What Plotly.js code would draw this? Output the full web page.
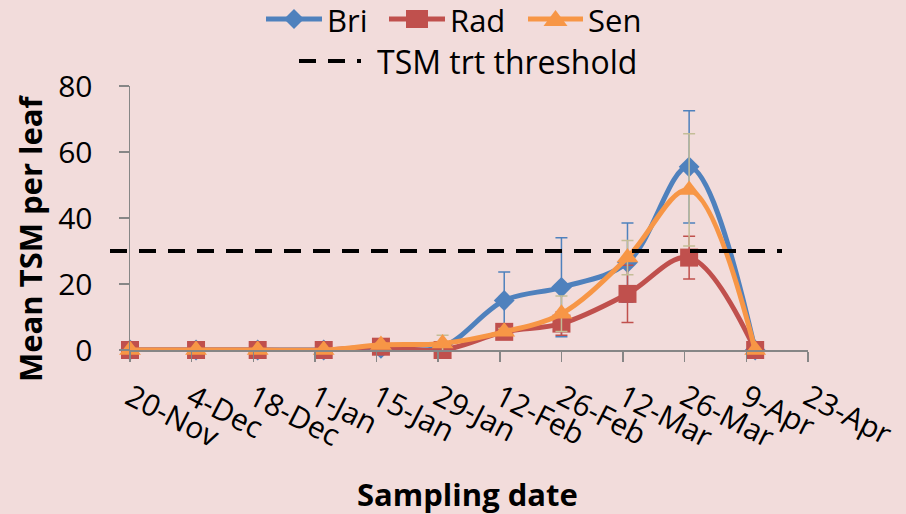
<!DOCTYPE html>
<html>
<head>
<meta charset="utf-8">
<script src="https://cdn.plot.ly/plotly-3.0.1.min.js"></script>
<style>html,body{margin:0;padding:0;background:#f2dcdb;}#chart{width:906px;height:514px;}</style>
</head>
<body>
<div id="chart"></div>
<script>
// Sampling dates (actual) and axis tick dates
const sampleDates = ['2012-11-20','2012-12-05','2012-12-19','2013-01-03','2013-01-16','2013-01-30','2013-02-13','2013-02-26','2013-03-13','2013-03-27','2013-04-11'];
const tickDates = ['2012-11-20','2012-12-04','2012-12-18','2013-01-01','2013-01-15','2013-01-29','2013-02-12','2013-02-26','2013-03-12','2013-03-26','2013-04-09','2013-04-23'];
const tickLabels = ['20-Nov','4-Dec','18-Dec','1-Jan','15-Jan','29-Jan','12-Feb','26-Feb','12-Mar','26-Mar','9-Apr','23-Apr'];

const seriesNames = ['Bri', 'Rad', 'Sen'];
const briValues = [0, 0, 0, 0, 0.5, 1, 15, 19, 26.5, 55.5, 0];
const briErrors = [0, 0, 0, 0, 0.5, 1, 8.6, 15, 12, 17, 0];
const radValues = [0, 0, 0, 0, 1, 0, 5.5, 8, 17, 28, 0];
const radErrors = [0, 0, 0, 0, 0.5, 0, 1, 3.5, 8.7, 6.5, 0];
const senValues = [0, 0, 0, 0, 1.5, 2, 5.5, 11, 28, 48.5, 0];
const senErrors = [0, 0, 0, 0, 0.5, 2.5, 1, 5.4, 5.2, 17, 0];
const thresholdName = 'TSM trt threshold';
const thresholdValue = 30;
const xTitle = 'Sampling date';
const yTitle = 'Mean TSM per leaf';

const font = 'Open Sans, sans-serif';
const colors = ['#4f81bd', '#c0504d', '#f79646'];

// plot area in pixels: left 130, right 808, top 86, bottom 350
const PL = 130, PR = 808, PT = 86, PB = 350;
const px = x => (x - PL) / (PR - PL);
const py = y => (PB - y) / (PB - PT);

function series(name, values, errors, color, errColor, symbol, size) {
  return {
    type: 'scatter', mode: 'lines+markers', name: name,
    x: sampleDates, y: values,
    line: {color: color, width: 5, shape: 'spline', smoothing: 1},
    marker: {color: color, symbol: symbol, size: size},
    error_y: {type: 'data', array: errors, visible: true, color: errColor, thickness: 1.5, width: 6},
    cliponaxis: false
  };
}

const traces = [
  series(seriesNames[0], briValues, briErrors, colors[0], colors[0], 'diamond', 16),
  series(seriesNames[1], radValues, radErrors, colors[1], colors[1], 'square', 18),
  series(seriesNames[2], senValues, senErrors, colors[2], '#c4bd97', 'triangle-up', 19)
];

// legend drawn as shapes + text annotations (row 1 series, row 2 threshold)
const legRow1 = 20, legRow2 = 61;
const legItems = [
  {x0: 266, x1: 322, tx: 325, path: 'M0,10 L10,0 L0,-10 L-10,0 Z'},
  {x0: 389, x1: 445, tx: 448, path: 'M-11,-9 H11 V9 H-11 Z'},
  {x0: 528, x1: 583, tx: 586, path: 'M-12,-7 L12,-7 L0,9 Z'}
];
const shapes = [{
  type: 'line', xref: 'paper', yref: 'y', layer: 'above',
  x0: px(110), x1: px(782), y0: thresholdValue, y1: thresholdValue,
  line: {color: '#000000', width: 4, dash: '17px,12px'}
}];
const annotations = [];
legItems.forEach((it, i) => {
  shapes.push({type: 'line', xref: 'paper', yref: 'paper', x0: px(it.x0), x1: px(it.x1), y0: py(legRow1 - 1), y1: py(legRow1 - 1),
    line: {color: colors[i], width: 5}});
  shapes.push({type: 'path', xref: 'paper', yref: 'paper', xsizemode: 'pixel', ysizemode: 'pixel',
    xanchor: px((it.x0 + it.x1) / 2), yanchor: py(legRow1 - 1), path: it.path,
    fillcolor: colors[i], line: {width: 0}});
  annotations.push({xref: 'paper', yref: 'paper', x: px(it.tx), y: py(legRow1), xanchor: 'left', yanchor: 'middle',
    height: 34, valign: 'middle',
    text: seriesNames[i], showarrow: false, font: {family: font, size: 31, color: '#000'}});
});
shapes.push({type: 'line', xref: 'paper', yref: 'paper', x0: px(299), x1: px(361), y0: py(legRow2), y1: py(legRow2),
  line: {color: '#000000', width: 4, dash: '17px,12px'}});
annotations.push({xref: 'paper', yref: 'paper', x: px(375), y: py(legRow2), xanchor: 'left', yanchor: 'middle',
  height: 36, valign: 'middle',
  text: thresholdName, showarrow: false, font: {family: font, size: 32, color: '#000'}});
// axis titles
annotations.push({xref: 'paper', yref: 'paper', x: px(467), y: py(494), xanchor: 'center', yanchor: 'middle',
  text: '<b>' + xTitle + '</b>', showarrow: false, font: {family: font, size: 31, color: '#000'}});
annotations.push({xref: 'paper', yref: 'paper', x: px(30), y: py(238), xanchor: 'center', yanchor: 'middle', textangle: -90,
  text: '<b>' + yTitle + '</b>', showarrow: false, font: {family: font, size: 31, color: '#000'}});

const layout = {
  width: 906, height: 514,
  paper_bgcolor: '#f2dcdb', plot_bgcolor: '#f2dcdb',
  margin: {l: PL, r: 906 - PR, t: PT, b: 514 - PB},
  font: {family: font, color: '#000000', size: 28},
  showlegend: false,
  xaxis: {
    type: 'date', range: ['2012-11-20', '2013-04-23'],
    tickmode: 'array', tickvals: tickDates, ticktext: tickLabels,
    tickangle: 27, ticks: 'outside', ticklen: 10, tickwidth: 1.5, tickcolor: '#868686',
    showline: true, linecolor: '#868686', linewidth: 1.5, showgrid: false, zeroline: false,
    tickfont: {family: font, size: 30}, ticklabelstandoff: 7
  },
  yaxis: {
    range: [0, 80], tickvals: [0, 20, 40, 60, 80],
    ticks: 'outside', ticklen: 10, tickwidth: 1.5, tickcolor: '#868686',
    showline: true, linecolor: '#868686', linewidth: 1.5, showgrid: false, zeroline: false,
    tickfont: {family: font, size: 30}, ticklabelstandoff: 20
  },
  shapes: shapes,
  annotations: annotations
};

Plotly.newPlot('chart', traces, layout, {displayModeBar: false, staticPlot: true});
</script>
</body>
</html>
